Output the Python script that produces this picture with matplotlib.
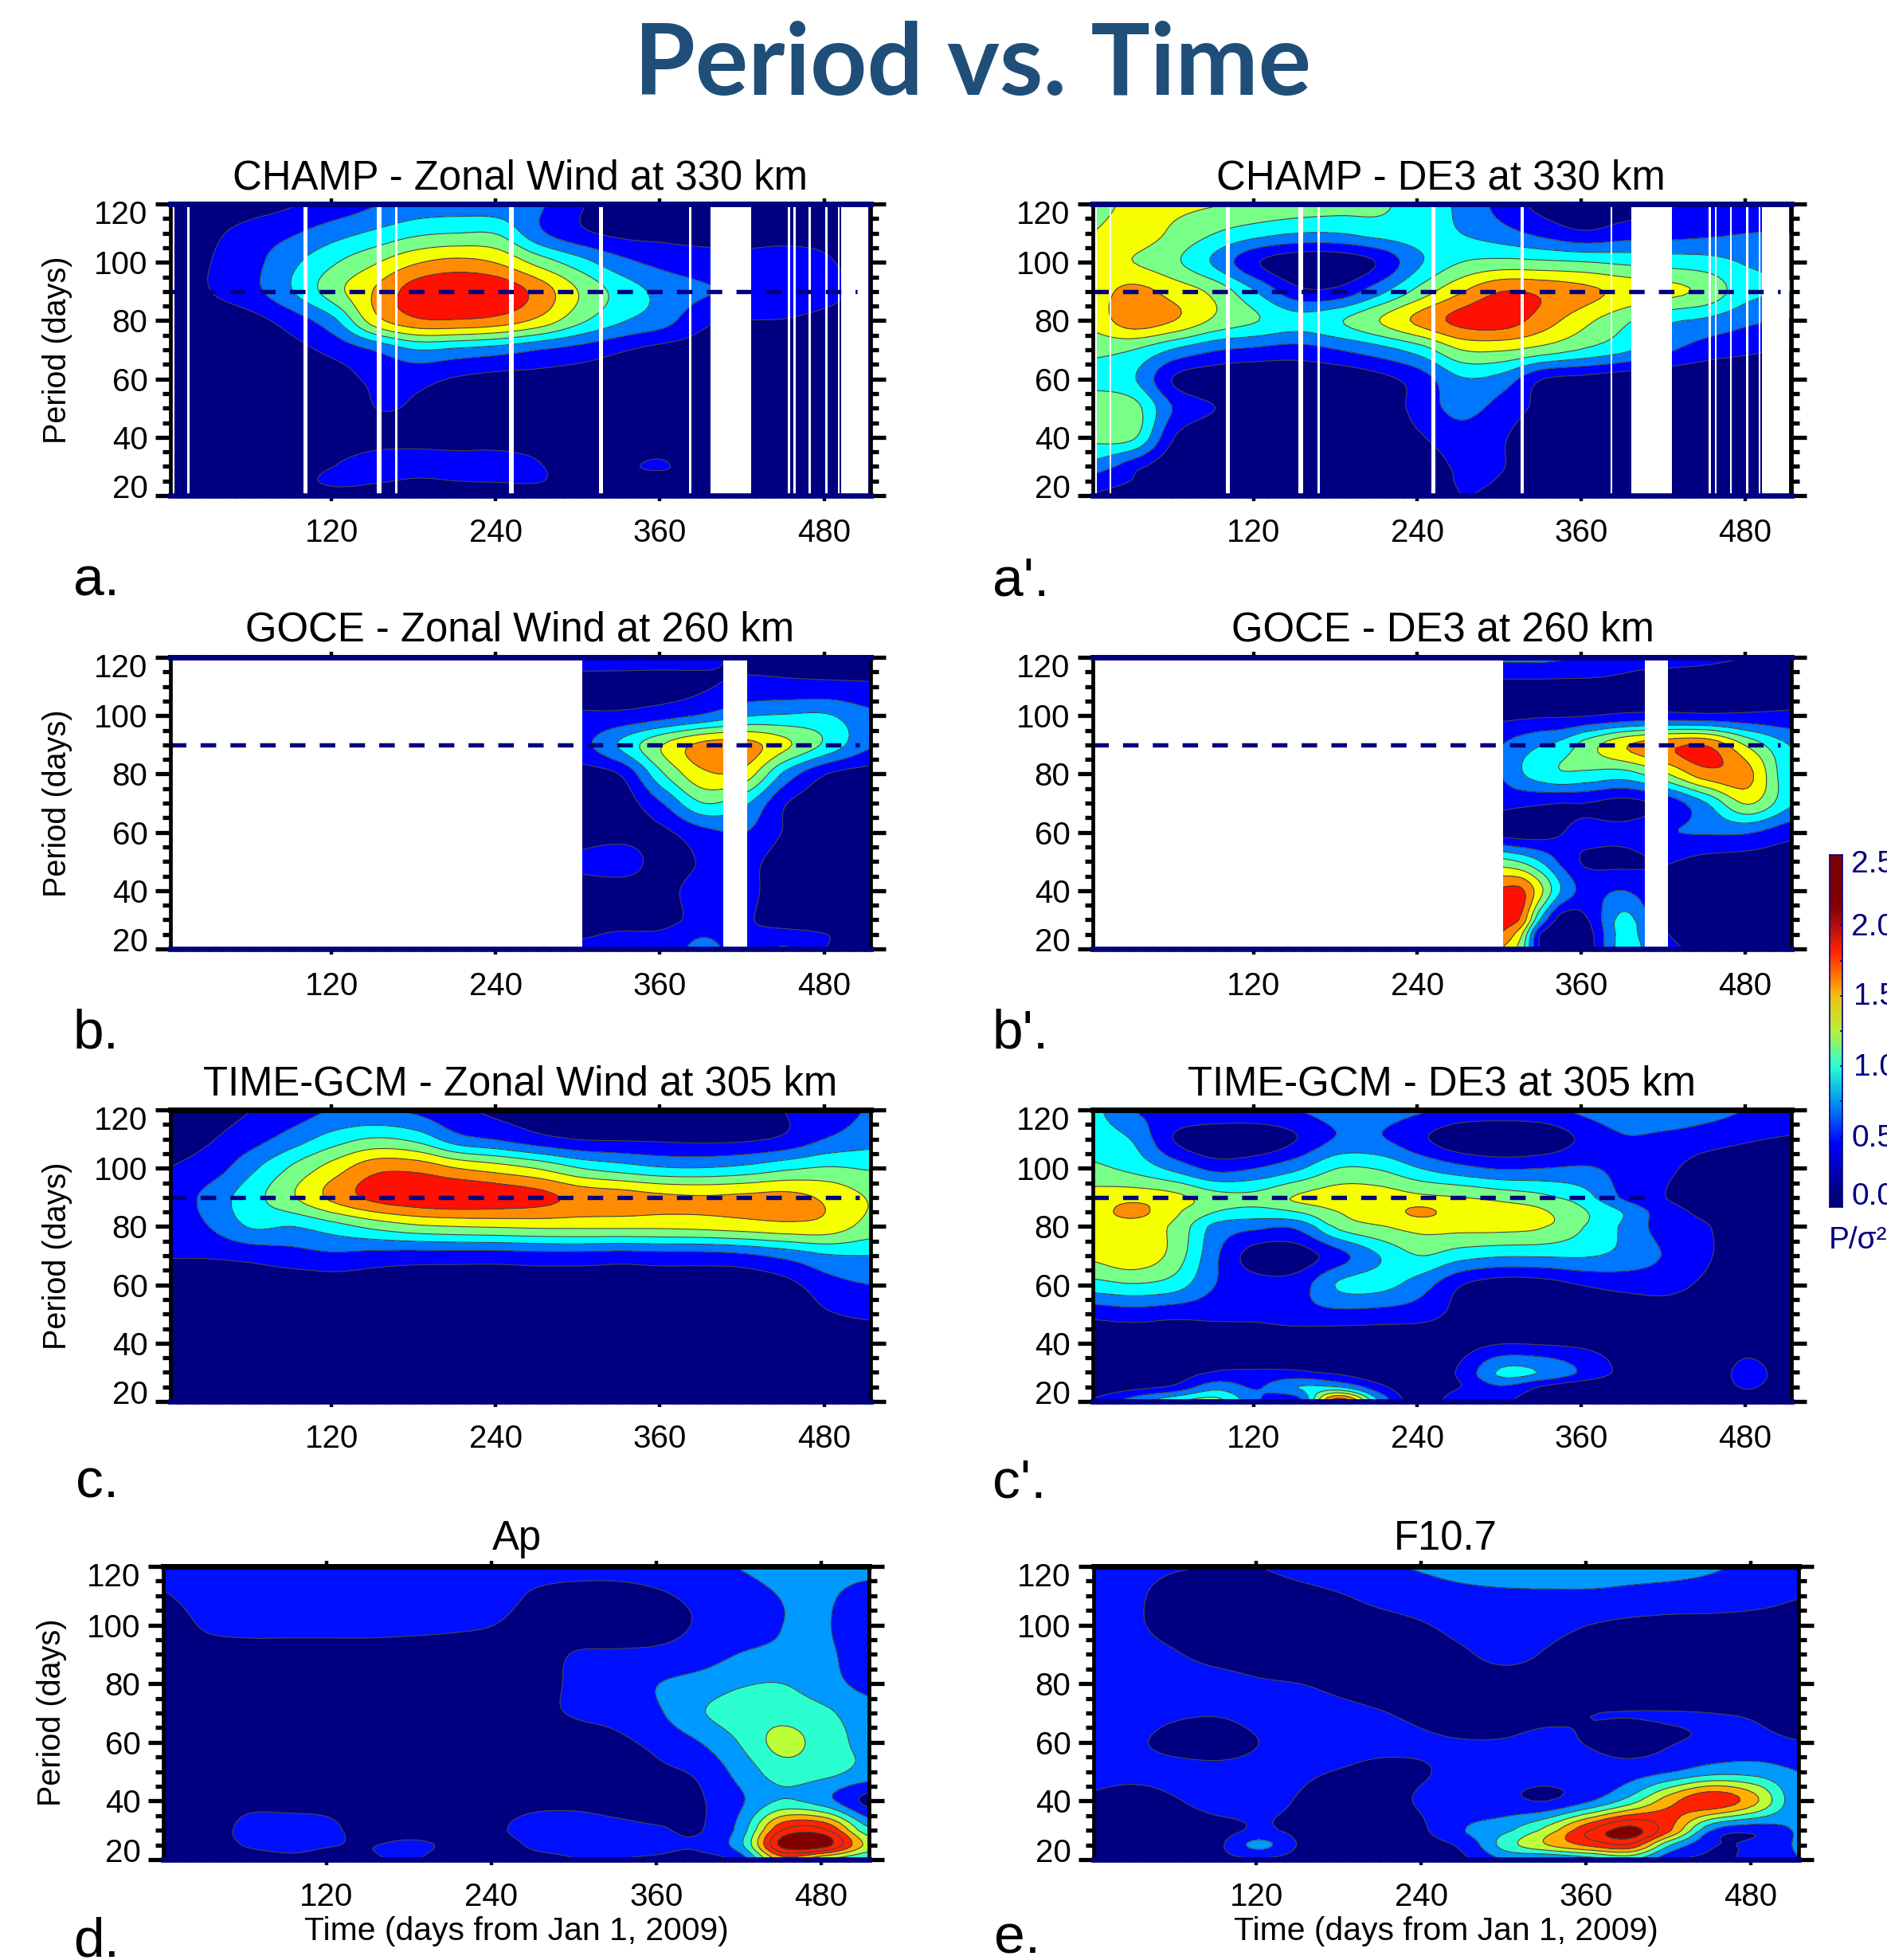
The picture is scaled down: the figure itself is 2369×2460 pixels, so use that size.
import numpy as np
import matplotlib
matplotlib.use("Agg")
import matplotlib.pyplot as plt
from matplotlib.colors import ListedColormap, LinearSegmentedColormap, BoundaryNorm
from matplotlib.transforms import ScaledTranslation

W, H = 2369, 2460
DPI = 100
plt.rcParams['font.family'] = ['Liberation Sans', 'DejaVu Sans']

NAVY = '#000080'
periods = [120, 110, 100, 90, 80, 70, 60, 50, 40, 30, 25, 20]
gcm_de3_periods = [120, 110, 100, 90, 85, 80, 70, 60, 50, 40, 30, 25, 20]
days = [1, 32, 62, 92, 122, 152, 182, 212, 242, 272, 302, 332, 362, 392, 422, 452, 482, 515]
goce_days = [300, 332, 362, 392, 422, 452, 482, 515]
goce_de3_days = [300, 316, 330, 345, 362, 392, 422, 452, 482, 515]

# Values are read as contour-band positions: band k spans k..k+1
champ_wind = [
 [.2,.3,.6,.95,1.4,1.95,2.4,2.5,2.4,2.1,1.05,.7,.6,.5,.5,.5,.4,.3],
 [.3,.8,1.4,1.9,2.6,3.2,3.8,4.0,3.9,2.2,1.2,.8,.75,.7,.7,.7,.7,.5],
 [.6,1.0,1.7,2.8,3.9,4.9,5.9,6.3,5.9,4.6,3.4,2.3,1.7,1.4,1.3,1.4,1.1,.5],
 [.4,1.0,1.7,3.0,4.6,6.1,7.5,7.9,7.7,6.6,4.9,3.6,2.7,2.1,1.9,1.6,1.3,.7],
 [.2,.4,.7,1.5,2.8,5.6,6.8,6.9,6.6,5.7,4.2,3.1,2.4,1.2,1.0,.95,.7,.3],
 [.1,.15,.3,.7,1.3,2.1,3.0,2.8,2.5,2.0,1.6,1.1,.7,.6,.5,.4,.3,.2],
 [.1,.1,.2,.4,.6,1.2,1.3,.9,.7,.7,.6,.5,.4,.3,.3,.2,.2,.1],
 [.1,.1,.1,.2,.3,1.0,.9,.5,.4,.3,.3,.2,.2,.2,.2,.1,.1,.1],
 [.1,.1,.1,.2,.4,.7,.8,.7,.7,.6,.3,.3,.3,.2,.2,.1,.1,.1],
 [.1,.1,.1,.3,1.0,1.4,1.3,1.3,1.3,1.05,.4,.8,1.1,.3,.2,.1,.1,.1],
 [.1,.1,.1,.4,1.3,1.1,.9,1.0,1.05,1.05,.3,.3,.4,.2,.2,.1,.1,.1],
 [.1,.1,.1,.2,.4,.4,.4,.4,.4,.3,.2,.2,.2,.1,.1,.1,.1,.1],
]
champ_de3 = [
 [4.5,5.3,5.2,5.05,4.8,4.6,4.4,4.2,3.5,2.8,1.6,.7,.5,.6,.9,1.2,1.5,1.6],
 [5.0,5.5,4.8,4.0,3.4,3.0,3.0,3.4,3.5,3.0,2.4,1.7,1.15,1.5,1.6,1.8,2.0,2.0],
 [5.3,5.0,4.2,2.8,1.1,.3,.3,1.1,2.9,4.0,4.3,4.2,4.05,3.8,3.6,3.4,2.9,2.7],
 [5.5,6.3,5.6,4.7,3.0,1.3,1.3,2.7,4.4,5.9,7.0,6.8,6.3,5.7,5.3,4.7,3.3,3.0],
 [5.3,6.6,6.0,4.8,4.05,3.4,3.9,5.0,6.3,7.3,7.5,6.5,5.3,4.2,3.2,2.8,2.2,1.9],
 [4.3,4.0,2.9,2.1,1.8,1.6,2.0,2.6,3.5,5.0,5.1,4.6,3.9,3.2,2.2,1.5,1.2,.9],
 [3.6,3.1,.9,.4,.2,.2,.3,.7,1.5,2.9,2.6,1.0,.7,.4,.3,.3,.2,.2],
 [4.8,4.4,1.9,1.0,.7,.3,.2,.3,1.4,2.3,1.6,.7,.3,.2,.2,.2,.2,.2],
 [4.3,4.15,1.0,.3,.2,.2,.2,.2,.9,1.6,1.1,.3,.1,.1,.1,.1,.1,.1],
 [2.7,1.4,.3,.2,.1,.1,.1,.1,.3,1.2,1.05,.2,.1,.1,.1,.1,.1,.1],
 [1.5,.95,.2,.1,.1,.1,.1,.1,.2,1.1,.9,.1,.1,.1,.1,.1,.1,.1],
 [.95,.6,.1,.1,.1,.1,.1,.1,.2,1.0,.7,.1,.1,.1,.1,.1,.1,.1],
]
goce_wind = [
 [1.3,1.3,1.3,1.2,.8,.8,.8,.8],
 [.7,.7,.7,.9,1.3,1.25,1.2,1.1],
 [1.1,1.2,1.6,2.15,2.9,3.1,3.1,2.2],
 [1.6,3.2,5.0,6.3,6.4,5.2,3.75,2.1],
 [.6,1.1,3.9,5.8,5.6,2.7,1.0,.6],
 [.3,.5,2.0,4.0,3.2,1.05,.5,.3],
 [.5,.6,.8,1.7,2.0,.9,.3,.2],
 [1.2,1.5,.6,1.1,1.3,.5,.2,.2],
 [.6,.5,.7,1.4,1.3,.4,.2,.2],
 [.8,.6,.7,1.3,1.1,.6,.3,.2],
 [.9,1.1,1.15,1.9,1.2,1.3,1.0,.3],
 [1.2,1.3,1.4,2.3,1.5,2.1,1.0,.4],
]
goce_de3 = [
 [2.2,2.2,2.2,2.1,2.0,1.3,1.2,1.1,1.0,.95],
 [.7,.7,.7,.7,.7,.8,.7,.7,.6,.6],
 [.8,.85,.9,.9,.95,1.2,1.3,1.2,1.2,1.2],
 [1.95,2.5,2.95,3.3,4.4,5.9,6.7,6.9,4.8,2.9],
 [2.0,2.9,3.5,3.9,3.8,3.6,4.9,6.6,6.3,3.0],
 [1.3,1.2,1.1,1.0,1.0,.7,1.3,3.0,5.1,3.1],
 [.6,.5,.6,.95,1.3,1.3,1.9,2.1,2.1,1.3],
 [4.4,3.9,3.0,1.8,.9,.8,1.05,.7,.6,.5],
 [7.2,7.2,5.3,3.0,1.7,2.0,.9,.4,.3,.3],
 [7.5,6.8,3.0,.6,.8,3.3,.8,.3,.3,.2],
 [7.0,5.2,1.0,.5,.4,3.4,1.1,.3,.2,.2],
 [6.1,4.5,.9,.3,.3,3.5,1.5,.5,.2,.2],
]
gcm_wind = [
 [.4,.7,1.0,1.5,2.05,2.1,1.8,1.2,.8,.7,.6,.5,.5,.5,.5,1.0,1.4,2.1],
 [.7,.95,1.6,2.5,3.5,4.1,3.7,2.4,1.9,1.3,.95,.9,.85,.8,.85,1.2,2.05,2.6],
 [1.0,1.5,2.8,4.2,5.5,6.7,6.7,6.0,5.5,4.9,4.0,3.5,3.1,3.05,3.3,3.8,4.1,3.9],
 [1.3,2.4,3.6,4.9,6.3,7.3,7.7,7.8,7.6,7.3,6.7,6.5,6.2,6.1,6.2,6.3,5.8,4.9],
 [1.2,2.05,3.1,3.0,3.6,4.3,4.8,5.0,5.1,5.2,5.2,5.2,5.2,5.3,5.5,5.7,5.6,4.6],
 [1.05,1.1,1.3,1.6,1.8,1.6,1.5,1.5,1.5,1.6,1.6,1.5,1.6,1.6,1.8,2.3,2.9,3.0],
 [.3,.3,.4,.4,.5,.5,.5,.5,.5,.5,.5,.5,.5,.5,.4,.7,1.6,2.0],
 [.1,.1,.1,.1,.1,.1,.1,.1,.1,.1,.1,.1,.1,.1,.1,.3,.9,1.2],
 [.1,.1,.1,.1,.1,.1,.1,.1,.1,.1,.1,.1,.1,.1,.1,.1,.2,.3],
 [.1,.1,.1,.1,.1,.1,.1,.1,.1,.1,.1,.1,.1,.1,.1,.1,.1,.1],
 [.1,.1,.1,.1,.1,.1,.1,.1,.1,.1,.1,.1,.1,.1,.1,.1,.1,.1],
 [.1,.1,.1,.1,.1,.1,.1,.1,.1,.1,.1,.1,.1,.1,.1,.1,.1,.1],
]
gcm_de3 = [
 [3.3,2.0,1.9,1.9,1.9,2.0,2.4,2.4,2.1,1.7,1.6,1.7,2.2,2.7,2.8,2.4,1.95,1.6],
 [3.6,2.9,.95,.2,.2,1.0,2.1,2.1,1.2,.3,.1,.3,1.2,1.9,1.7,1.4,1.1,.9],
 [4.2,3.7,2.7,1.7,2.0,2.8,4.0,3.9,3.0,2.3,1.9,2.0,2.1,1.7,1.2,.6,.4,.2],
 [5.4,5.6,5.3,4.4,4.3,5.1,5.5,5.5,5.2,5.0,4.6,4.2,3.4,1.8,1.0,.6,.4,.2],
 [5.5,6.3,5.2,4.0,3.6,4.0,5.0,5.5,6.15,5.6,5.4,5.1,4.1,2.9,1.4,.8,.4,.2],
 [5.4,5.5,4.8,2.7,2.2,2.2,4.2,4.9,5.3,5.3,5.3,5.05,4.0,2.8,1.5,1.05,.5,.3],
 [5.2,5.7,4.6,2.2,.5,.5,1.6,3.0,4.0,3.4,3.1,3.1,3.1,2.7,1.9,1.1,.5,.2],
 [3.6,3.9,3.5,2.0,1.4,1.5,3.1,3.3,2.5,1.05,.5,.6,1.05,1.3,1.3,.8,.3,.1],
 [1.3,1.5,1.3,1.3,1.3,1.6,1.7,1.6,1.4,.7,.3,.3,.3,.4,.5,.3,.1,.1],
 [.2,.2,.2,.2,.2,.2,.2,.2,.2,.6,.95,.9,.8,.5,.2,.2,.6,.2],
 [.2,.3,.5,1.05,1.1,1.1,.8,.3,.2,1.2,3.2,2.9,1.8,.7,.2,.3,1.3,.4],
 [.3,.7,1.2,2.6,1.9,3.0,3.0,1.3,.2,1.0,1.9,.9,.3,.2,.2,.2,1.1,.2],
 [1.1,2.5,3.8,4.4,2.2,1.4,7.8,3.0,.3,1.8,1.2,.3,.2,.2,.2,.2,.3,.1],
]
ap_index = [
 [1.1,1.3,1.4,1.4,1.4,1.4,1.4,1.4,1.4,1.3,1.3,1.3,1.4,1.7,2.05,2.5,2.6,2.5],
 [.95,1.3,1.4,1.4,1.4,1.4,1.4,1.4,1.3,.9,.7,.7,.9,1.2,1.5,2.05,2.2,1.4],
 [.5,1.1,1.2,1.2,1.2,1.2,1.15,1.1,1.0,.7,.6,.6,.7,1.1,1.5,2.0,2.1,1.2],
 [.3,.6,.7,.7,.7,.7,.7,.7,.7,.7,1.05,1.1,1.2,1.5,2.05,2.2,2.2,1.4],
 [.2,.2,.2,.2,.2,.2,.2,.3,.4,.6,1.2,1.5,2.0,2.4,2.9,3.0,2.4,1.7],
 [.1,.1,.1,.1,.1,.1,.1,.2,.3,.7,1.1,1.3,1.9,2.9,3.5,3.6,3.2,2.4],
 [.1,.1,.1,.1,.1,.1,.1,.1,.2,.2,.5,.8,1.3,2.0,3.1,4.35,3.5,2.7],
 [.1,.1,.1,.1,.1,.1,.1,.1,.1,.1,.2,.3,.8,1.2,2.4,3.5,3.3,2.7],
 [.1,.1,.6,.6,.5,.1,.1,.1,.5,.7,.7,.5,.4,.9,1.9,3.1,2.4,.7],
 [.1,.1,1.4,1.5,1.3,.3,.3,.3,.8,1.4,1.5,1.3,1.1,.95,2.5,7.0,7.2,3.2],
 [.1,.1,1.1,1.3,1.05,.95,1.3,.7,.4,1.2,1.2,1.2,1.2,1.2,2.8,8.4,8.5,4.6],
 [.1,.1,.4,.8,.7,.9,1.1,.3,.2,.7,1.0,1.0,.9,.7,1.5,5.5,4.0,3.0],
]
f107_index = [
 [1.4,1.2,1.05,1.0,1.0,1.3,1.6,1.9,2.1,2.4,2.6,2.7,2.6,2.4,2.3,2.1,1.8,1.6],
 [1.3,1.1,.7,.5,.5,.7,.95,1.3,1.5,1.7,1.8,1.8,1.8,1.7,1.6,1.5,1.3,1.05],
 [1.4,1.1,.7,.4,.4,.5,.5,.7,.95,1.3,1.5,1.3,1.0,.8,.7,.7,.7,.7],
 [1.5,1.3,1.05,.7,.5,.4,.5,.5,.6,.9,1.3,.9,.6,.4,.3,.3,.3,.3],
 [1.5,1.5,1.4,1.3,1.1,1.0,.8,.6,.5,.5,.5,.5,.5,.4,.3,.3,.3,.3],
 [1.4,1.3,1.1,1.05,1.2,1.3,1.2,1.03,.8,.7,.7,.8,.98,1.02,1.03,1.0,.9,.6],
 [1.4,1.1,.8,.7,1.0,1.3,1.4,1.3,1.1,1.03,1.05,1.2,.95,.7,.95,1.2,1.3,1.05],
 [1.2,1.2,1.2,1.2,1.2,1.1,.95,.7,.95,1.2,1.3,1.4,1.4,1.5,1.95,2.6,2.6,2.0],
 [.9,.7,.95,1.3,1.2,.95,.7,.7,1.1,1.2,1.2,1.0,1.9,3.5,5.7,6.8,5.3,2.2],
 [.7,.6,.4,.7,1.1,.8,.5,.4,.9,2.0,2.8,4.4,6.9,8.4,6.0,2.0,1.3,2.1],
 [.7,.6,.5,.8,2.3,.9,.7,.6,.7,1.3,3.5,5.0,6.2,6.8,3.0,1.1,1.2,2.1],
 [.7,.6,.6,.8,.9,.7,.7,.7,.8,.9,2.1,1.9,2.5,3.2,1.2,.9,1.2,2.0],
]

upper_colors = ['#000080', '#0000ff', '#0077ff', '#00ffff', '#77ff88', '#f5ff00', '#ff8c00', '#ff1000', '#ff1000']
lower_colors = ['#000080', '#0010ff', '#0099ff', '#2bffd0', '#bbff3b', '#ffb000', '#ff2200', '#ff2200', '#800000']

champ_gap_start = [3.5, 14.4, 99.5, 153, 166.6, 250, 315.5, 381.5, 396.7, 453.2, 457.8, 468.8, 481, 490, 492.5]
champ_gap_end = [5.5, 16, 102.5, 156.3, 168.3, 253.2, 318.2, 383, 426.5, 455, 459.3, 470.3, 482.5, 491.2, 512.5]
goce_gap_start = [2, 406.5]
goce_gap_end = [303, 423.6]

xticks = [120, 240, 360, 480]
yticks = [20, 40, 60, 80, 100, 120]
dash_end_default = 506


def catmull(a, factor, axis):
    a = np.moveaxis(np.asarray(a, float), axis, 0)
    n = a.shape[0]
    t = np.linspace(0, n - 1, (n - 1) * factor + 1)
    i = np.clip(np.floor(t).astype(int), 0, n - 2)
    u = (t - i).reshape((-1,) + (1,) * (a.ndim - 1))
    p0 = a[np.clip(i - 1, 0, n - 1)]
    p1 = a[i]
    p2 = a[i + 1]
    p3 = a[np.clip(i + 2, 0, n - 1)]
    r = 0.5 * (2 * p1 + (p2 - p0) * u + (2 * p0 - 5 * p1 + 4 * p2 - p3) * u ** 2
               + (3 * p1 - p0 - 3 * p2 + p3) * u ** 3)
    return np.moveaxis(r, 0, axis)


def axes_px(l, t, r, b):
    return fig.add_axes([l / W, 1 - b / H, (r - l) / W, (b - t) / H])


def text_px(x, y, s, **kw):
    return fig.text(x / W, 1 - y / H, s, **kw)


fig = plt.figure(figsize=(W / DPI, H / DPI), dpi=DPI)


def panel(box, xlim, xs, field, colors, gaps=None, dash_end=None, top_navy=False, ys=periods):
    ax = axes_px(*box)
    z = np.asarray(field, float)
    X = np.interp(np.linspace(0, len(xs) - 1, (len(xs) - 1) * 8 + 1), np.arange(len(xs)), xs)
    Y = np.interp(np.linspace(0, len(ys) - 1, (len(ys) - 1) * 8 + 1), np.arange(len(ys)), ys)
    Z = np.clip(catmull(catmull(z, 8, 0), 8, 1), 0.01, 8.99)
    lev = np.arange(0, 10)
    ax.contourf(X, Y, Z, levels=lev, cmap=ListedColormap(colors), norm=BoundaryNorm(lev, 9), zorder=1)
    ax.contour(X, Y, Z, levels=lev[1:-1], colors='#444444', linewidths=0.8, zorder=2)
    if gaps:
        for s, e in zip(*gaps):
            ax.axvspan(s, e, color='white', lw=0, zorder=3)
    if dash_end:
        ax.plot([xlim[0], dash_end], [90, 90], color=NAVY, lw=3.9, dashes=(3.6, 3.3), zorder=4, dash_capstyle='butt')
    ax.set_xlim(*xlim)
    ax.set_ylim(20, 120)
    ax.set_xticks(xticks)
    ax.set_xticks(np.arange(10, 515, 10), minor=True)
    ax.set_yticks(yticks)
    ax.set_yticks(np.arange(20, 121, 5), minor=True)
    ax.tick_params(axis='y', which='major', direction='out', left=True, right=True, length=13.5, width=3.8, pad=7, labelsize=29)
    ax.tick_params(axis='y', which='minor', direction='out', left=True, right=True, length=7, width=3.8)
    ax.tick_params(axis='x', which='major', direction='out', top=True, bottom=True, length=5, width=3.2, pad=15.5, labelsize=29)
    ax.tick_params(axis='x', which='minor', direction='out', top=True, bottom=True, length=2, width=2.2)
    for s in ax.spines.values():
        s.set_zorder(6)
    for s in ('left', 'right'):
        ax.spines[s].set_linewidth(3.4)
    ax.spines['bottom'].set_color(NAVY)
    ax.spines['bottom'].set_linewidth(4.8)
    ax.spines['top'].set_color(NAVY if top_navy else 'black')
    ax.spines['top'].set_linewidth(5)
    for lab, v in zip(ax.get_yticklabels(), yticks):
        if v == 120:
            lab.set_transform(lab.get_transform() + ScaledTranslation(0, -10 / DPI, fig.dpi_scale_trans))
        if v == 20:
            lab.set_transform(lab.get_transform() + ScaledTranslation(0, 12 / DPI, fig.dpi_scale_trans))
    return ax


XL = (2.3, 514)
XR = (2.3, 514)
panel((214, 256, 1093, 622), XL, days, champ_wind, upper_colors, (champ_gap_start, champ_gap_end), dash_end_default - 2, True)
panel((1372, 256, 2249, 622), XR, days, champ_de3, upper_colors, (champ_gap_start, champ_gap_end), dash_end_default, True)
panel((214, 825, 1093, 1191), XL, goce_days, goce_wind, upper_colors, (goce_gap_start, goce_gap_end), dash_end_default, True)
panel((1372, 825, 2249, 1191), XR, goce_de3_days, goce_de3, upper_colors, (goce_gap_start, goce_gap_end), dash_end_default, True)
panel((214, 1393, 1093, 1759), XL, days, gcm_wind, upper_colors, None, dash_end_default, False)
panel((1372, 1393, 2249, 1759), XR, days, gcm_de3, upper_colors, None, 415, False, ys=gcm_de3_periods)
panel((205, 1966, 1091, 2334), (1.2, 514.8), days, ap_index, lower_colors)
panel((1373, 1966, 2258, 2334), (1.7, 514.7), days, f107_index, lower_colors)

titles = [
    (653, 237, 'CHAMP - Zonal Wind at 330 km'), (1809, 237, 'CHAMP - DE3 at 330 km'),
    (653, 804, 'GOCE - Zonal Wind at 260 km'), (1811, 804, 'GOCE - DE3 at 260 km'),
    (653, 1374, 'TIME-GCM - Zonal Wind at 305 km'), (1810, 1374, 'TIME-GCM - DE3 at 305 km'),
    (649, 1945, 'Ap'), (1815, 1945, 'F10.7'),
]
for x, y, s in titles:
    text_px(x, y, s, ha='center', va='baseline', fontsize=36.6)

letters = [(92, 748, 'a.'), (1246, 748, "a'."), (92, 1315, 'b.'), (1246, 1315, "b'."),
           (95, 1880, 'c.'), (1246, 1880, "c'."), (92, 2455, 'd.'), (1248, 2452, 'e.')]
for x, y, s in letters:
    text_px(x, y, s, ha='left', va='baseline', fontsize=50)

for x, y in [(72, 439), (72, 1008), (72, 1576), (65, 2149)]:
    text_px(x, y, 'Period (days)', rotation=90, ha='center', va='center', fontsize=28.5)
for x in (648, 1815):
    text_px(x, 2424, 'Time (days from Jan 1, 2009)', ha='center', va='center', fontsize=29.4)

text_px(1221, 119, 'Period vs. Time', ha='center', va='baseline', fontsize=89.5,
        family='Lato', weight='bold', color='#1F4E79')

# colour bar
cb_values = [0, .1, .45, .75, 1.0, 1.25, 1.5, 1.62, 1.82, 2.0, 2.15, 2.5]
cb_colors = ['#00007f', '#00007f', '#0000ff', '#0099ee', '#2bffd0', '#b8f040', '#f0c010',
             '#ff8000', '#ff2200', '#b01010', '#7f0000', '#7f0000']
cb_labels = ['2.5', '2.0', '1.5', '1.0', '0.5', '0.0']
cmap = LinearSegmentedColormap.from_list('cb', [(v / 2.5, c) for v, c in zip(cb_values, cb_colors)], N=512)
cax = axes_px(2297, 1073, 2313, 1515)
cax.imshow(np.linspace(2.5, 0, 512).reshape(-1, 1), aspect='auto', cmap=cmap, vmin=0, vmax=2.5,
           extent=(0, 1, 0, 2.5))
cax.set_xticks([])
cax.yaxis.tick_right()
cax.set_yticks(np.arange(0.25, 2.5, 0.25))
cax.tick_params(axis='y', direction='in', length=2.5, width=1.2, color=NAVY, labelright=False)
for s in cax.spines.values():
    s.set_color(NAVY)
    s.set_linewidth(1.2)
label_y = [1085, 1164, 1251, 1340, 1429, 1502]
label_x = [2324, 2324, 2327, 2327, 2324, 2324]
for x, y, s in zip(label_x, label_y, cb_labels):
    text_px(x, y, s, ha='left', va='center', fontsize=28, color=NAVY)
text_px(2296, 1567, 'P/σ²', ha='left', va='baseline', fontsize=28, color=NAVY)

fig.savefig('out.png', dpi=DPI, facecolor='white')
